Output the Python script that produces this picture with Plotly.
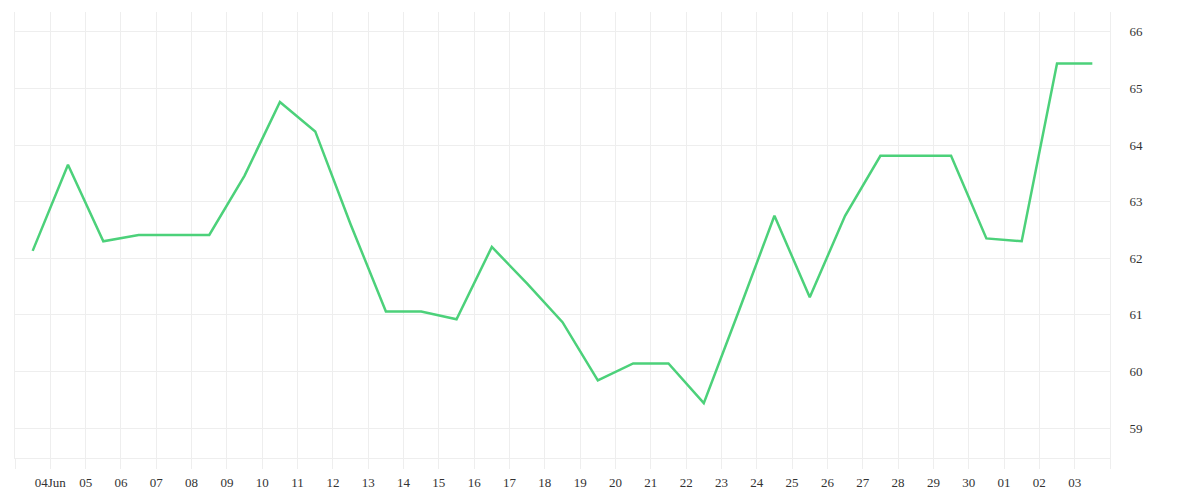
import plotly.graph_objects as go
import pandas as pd

# Data: daily values, plotted at midday of each day
dates = pd.date_range("2023-06-03 12:00", periods=31, freq="D")
values = [62.13, 63.65, 62.30, 62.41, 62.41, 62.41, 63.46, 64.76, 64.24, 62.60,
          61.06, 61.06, 60.92, 62.20, 61.55, 60.87, 59.84, 60.14, 60.14, 59.44,
          61.08, 62.75, 61.31, 62.75, 63.81, 63.81, 63.81, 62.35, 62.30, 65.44,
          65.44]

tick_dates = pd.date_range("2023-06-03", "2023-07-04", freq="D")
tick_labels = [""] + ["04Jun"] + [d.strftime("%d") for d in tick_dates[2:-1]] + [""]
y_ticks = [59, 60, 61, 62, 63, 64, 65, 66]

fig = go.Figure()
fig.add_trace(go.Scatter(
    x=dates, y=values, mode="lines",
    line=dict(color="#4cd17a", width=2.5),
    hoverinfo="x+y", showlegend=False,
))

font_family = "Liberation Serif, DejaVu Serif, serif"
fig.update_layout(
    width=1192, height=492,
    margin=dict(l=7, r=90, t=4, b=42),
    paper_bgcolor="white", plot_bgcolor="white",
    font=dict(family=font_family, size=13, color="#333"),
    xaxis=dict(
        type="date",
        range=[tick_dates[0], tick_dates[-1]],
        tickmode="array", tickvals=tick_dates, ticktext=tick_labels,
        showgrid=True, gridcolor="#eeeeee", gridwidth=1,
        ticks="outside", ticklen=10, tickcolor="#eeeeee", tickwidth=1,
        ticklabelstandoff=2,
        showline=True, linecolor="#eeeeee", linewidth=1,
        zeroline=False,
    ),
    yaxis=dict(
        side="right",
        range=[58.47, 66.35],
        tickmode="array", tickvals=y_ticks,
        showgrid=True, gridcolor="#eeeeee", gridwidth=1,
        ticks="outside", ticklen=16, tickcolor="rgba(0,0,0,0)",
        showline=True, mirror=True, linecolor="#eeeeee", linewidth=1,
        zeroline=False,
    ),
)

fig.write_html("out.html")
